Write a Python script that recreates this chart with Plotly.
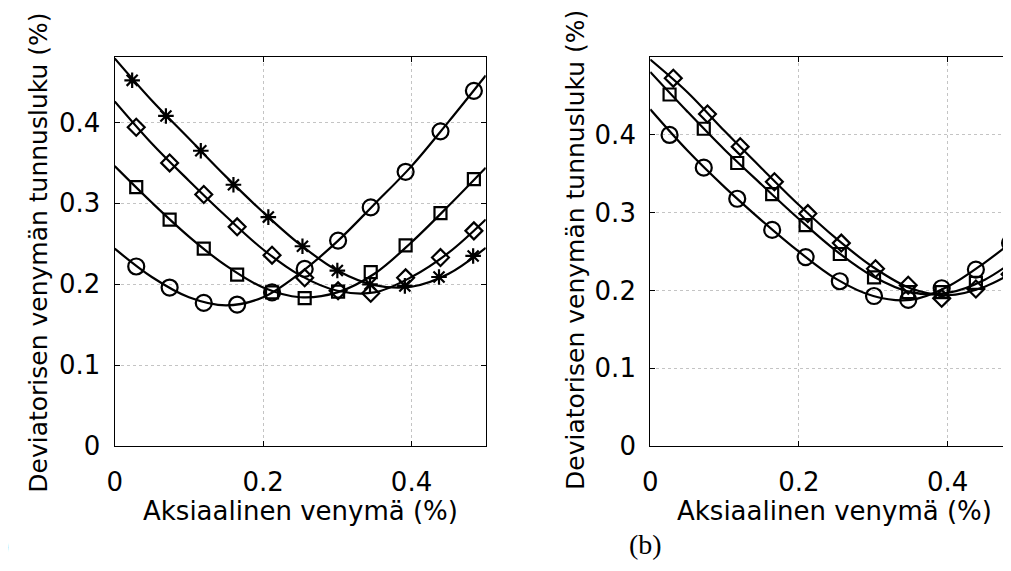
import plotly.graph_objects as go

# ---------------- data ----------------
# Panel (a): marker positions
a_x_mark = [0.029, 0.074, 0.120, 0.165, 0.212, 0.256, 0.301, 0.345, 0.392, 0.439, 0.484]
a_x_star = [0.0235, 0.069, 0.116, 0.160, 0.207, 0.253, 0.300, 0.344, 0.391, 0.437, 0.483]
a_star = [0.452, 0.408, 0.365, 0.323, 0.283, 0.247, 0.217, 0.200, 0.198, 0.209, 0.235]
a_diamond = [0.394, 0.350, 0.311, 0.271, 0.236, 0.208, 0.192, 0.189, 0.208, 0.233, 0.266]
a_square = [0.320, 0.280, 0.244, 0.212, 0.190, 0.183, 0.191, 0.215, 0.248, 0.288, 0.330]
a_circle = [0.222, 0.196, 0.177, 0.175, 0.190, 0.219, 0.254, 0.295, 0.339, 0.389, 0.439]

# Panel (a): fitted curves read at regular strain values
curve_x = [0.0, 0.05, 0.10, 0.15, 0.20, 0.25, 0.30, 0.35, 0.40, 0.45, 0.50]
a_star_curve = [0.479, 0.427, 0.380, 0.333, 0.289, 0.249, 0.217, 0.199, 0.197, 0.213, 0.245]
a_diamond_curve = [0.426, 0.374, 0.328, 0.284, 0.243, 0.211, 0.192, 0.190, 0.209, 0.239, 0.280]
a_square_curve = [0.346, 0.301, 0.259, 0.223, 0.196, 0.184, 0.190, 0.213, 0.252, 0.297, 0.344]
a_circle_curve = [0.244, 0.209, 0.184, 0.174, 0.184, 0.214, 0.253, 0.299, 0.346, 0.401, 0.458]

# Panel (b): marker positions
b_x_diamond = [0.031, 0.077, 0.121, 0.167, 0.212, 0.257, 0.303, 0.347, 0.392, 0.438, 0.484]
b_x_mark = [0.026, 0.072, 0.117, 0.164, 0.209, 0.255, 0.301, 0.347, 0.392, 0.438, 0.484]
b_diamond = [0.473, 0.427, 0.385, 0.340, 0.299, 0.261, 0.228, 0.207, 0.190, 0.202, 0.221]
b_square = [0.452, 0.408, 0.364, 0.324, 0.284, 0.247, 0.217, 0.198, 0.198, 0.210, 0.236]
b_circle = [0.400, 0.358, 0.318, 0.278, 0.243, 0.212, 0.193, 0.188, 0.203, 0.227, 0.261]

# Panel (b): fitted curves
b_diamond_curve = [0.497, 0.455, 0.405, 0.357, 0.310, 0.267, 0.230, 0.203, 0.194, 0.205, 0.230]
b_square_curve = [0.481, 0.430, 0.381, 0.336, 0.292, 0.251, 0.218, 0.198, 0.197, 0.214, 0.246]
b_circle_curve = [0.433, 0.380, 0.333, 0.290, 0.250, 0.215, 0.193, 0.188, 0.205, 0.236, 0.273]

x_ticks = [0, 0.2, 0.4]
x_ticktext = ["0", "0.2", "0.4"]
y_ticks = [0, 0.1, 0.2, 0.3, 0.4]
y_ticktext = ["0", "0.1", "0.2", "0.3", "0.4"]

x_title = "Aksiaalinen venymä (%)"
y_title = "Deviatorisen venymän tunnusluku (%)"

# ---------------- figure ----------------
W, H = 1011, 571
FONT = "DejaVu Sans"
fig = go.Figure()

def add_curve(x, y, xa, ya):
    fig.add_trace(go.Scatter(x=x, y=y, mode="lines", line=dict(color="black", width=2.2, shape="spline", smoothing=1.0),
                             xaxis=xa, yaxis=ya, showlegend=False, hoverinfo="skip"))

def add_marks(x, y, symbol, size, xa, ya):
    fig.add_trace(go.Scatter(x=x, y=y, mode="markers",
                             marker=dict(symbol=symbol, size=size, color="black",
                                         line=dict(color="black", width=2.2)),
                             xaxis=xa, yaxis=ya, showlegend=False, cliponaxis=False))

# panel (a)
add_curve(curve_x, a_star_curve, "x", "y")
add_curve(curve_x, a_diamond_curve, "x", "y")
add_curve(curve_x, a_square_curve, "x", "y")
add_curve(curve_x, a_circle_curve, "x", "y")
add_marks(a_x_star, a_star, "asterisk-open", 13, "x", "y")
add_marks(a_x_mark, a_diamond, "diamond-open", 13, "x", "y")
add_marks(a_x_mark, a_square, "square-open", 12, "x", "y")
add_marks(a_x_mark, a_circle, "circle-open", 16, "x", "y")

# panel (b)
add_curve(curve_x, b_diamond_curve, "x2", "y2")
add_curve(curve_x, b_square_curve, "x2", "y2")
add_curve(curve_x, b_circle_curve, "x2", "y2")
add_marks(b_x_diamond, b_diamond, "diamond-open", 13, "x2", "y2")
add_marks(b_x_mark, b_square, "square-open", 12, "x2", "y2")
add_marks(b_x_mark, b_circle, "circle-open", 16, "x2", "y2")

tickfont = dict(family=FONT, size=26, color="black")
common_x = dict(tickvals=x_ticks, ticktext=x_ticktext, ticks="inside", ticklen=5, tickcolor="black",
                showline=True, linecolor="black", linewidth=1.2, showgrid=True, gridcolor="#c4c4c4",
                griddash="dot", gridwidth=1, zeroline=False, tickfont=tickfont, ticklabelstandoff=13)
common_y = dict(tickvals=y_ticks, ticktext=y_ticktext, ticks="inside", ticklen=5, tickcolor="black",
                showline=True, linecolor="black", linewidth=1.2, showgrid=True, gridcolor="#c4c4c4",
                griddash="dot", gridwidth=1, zeroline=False, tickfont=tickfont, ticklabelstandoff=8)

ydom = [1 - 450 / H, 1 - 50.5 / H]
fig.update_layout(
    width=W, height=H, margin=dict(l=0, r=0, t=0, b=0),
    paper_bgcolor="white", plot_bgcolor="white", showlegend=False,
    xaxis=dict(domain=[99.5 / W, 473.5 / W], range=[0, 0.5], anchor="y", mirror="ticks", **common_x),
    yaxis=dict(domain=ydom, range=[0, 0.4806], anchor="x", mirror="ticks", **common_y),
    xaxis2=dict(domain=[639.3 / W, 1.0], range=[0, 0.496], anchor="y2", mirror="ticks", **common_x),
    yaxis2=dict(domain=ydom, range=[0, 0.5], anchor="x2", mirror=False, **common_y),
)

ytitle_font = dict(family=FONT, size=25, color="black")
xtitle_font = dict(family=FONT, size=26, color="black")
for xc, yc in [(22.5, 251), (564, 249)]:
    fig.add_annotation(text=y_title, xref="paper", yref="paper", x=xc / W, y=1 - yc / H, textangle=-90,
                       showarrow=False, xanchor="center", yanchor="middle", font=ytitle_font)
for xc in [286.5, 825]:
    fig.add_annotation(text=x_title, xref="paper", yref="paper", x=xc / W, y=1 - 517 / H,
                       showarrow=False, xanchor="center", yanchor="middle", font=xtitle_font)
fig.add_annotation(text="(b)", xref="paper", yref="paper", x=635 / W, y=1 - 551 / H, showarrow=False,
                   xanchor="center", yanchor="middle",
                   font=dict(family="Liberation Serif", size=28, color="black"))
fig.add_annotation(text="(a)", xref="paper", yref="paper", x=-5 / W, y=1 - 551 / H, showarrow=False,
                   xanchor="right", yanchor="middle",
                   font=dict(family="Liberation Serif", size=28, color="black"))

fig.write_html("out.html")
